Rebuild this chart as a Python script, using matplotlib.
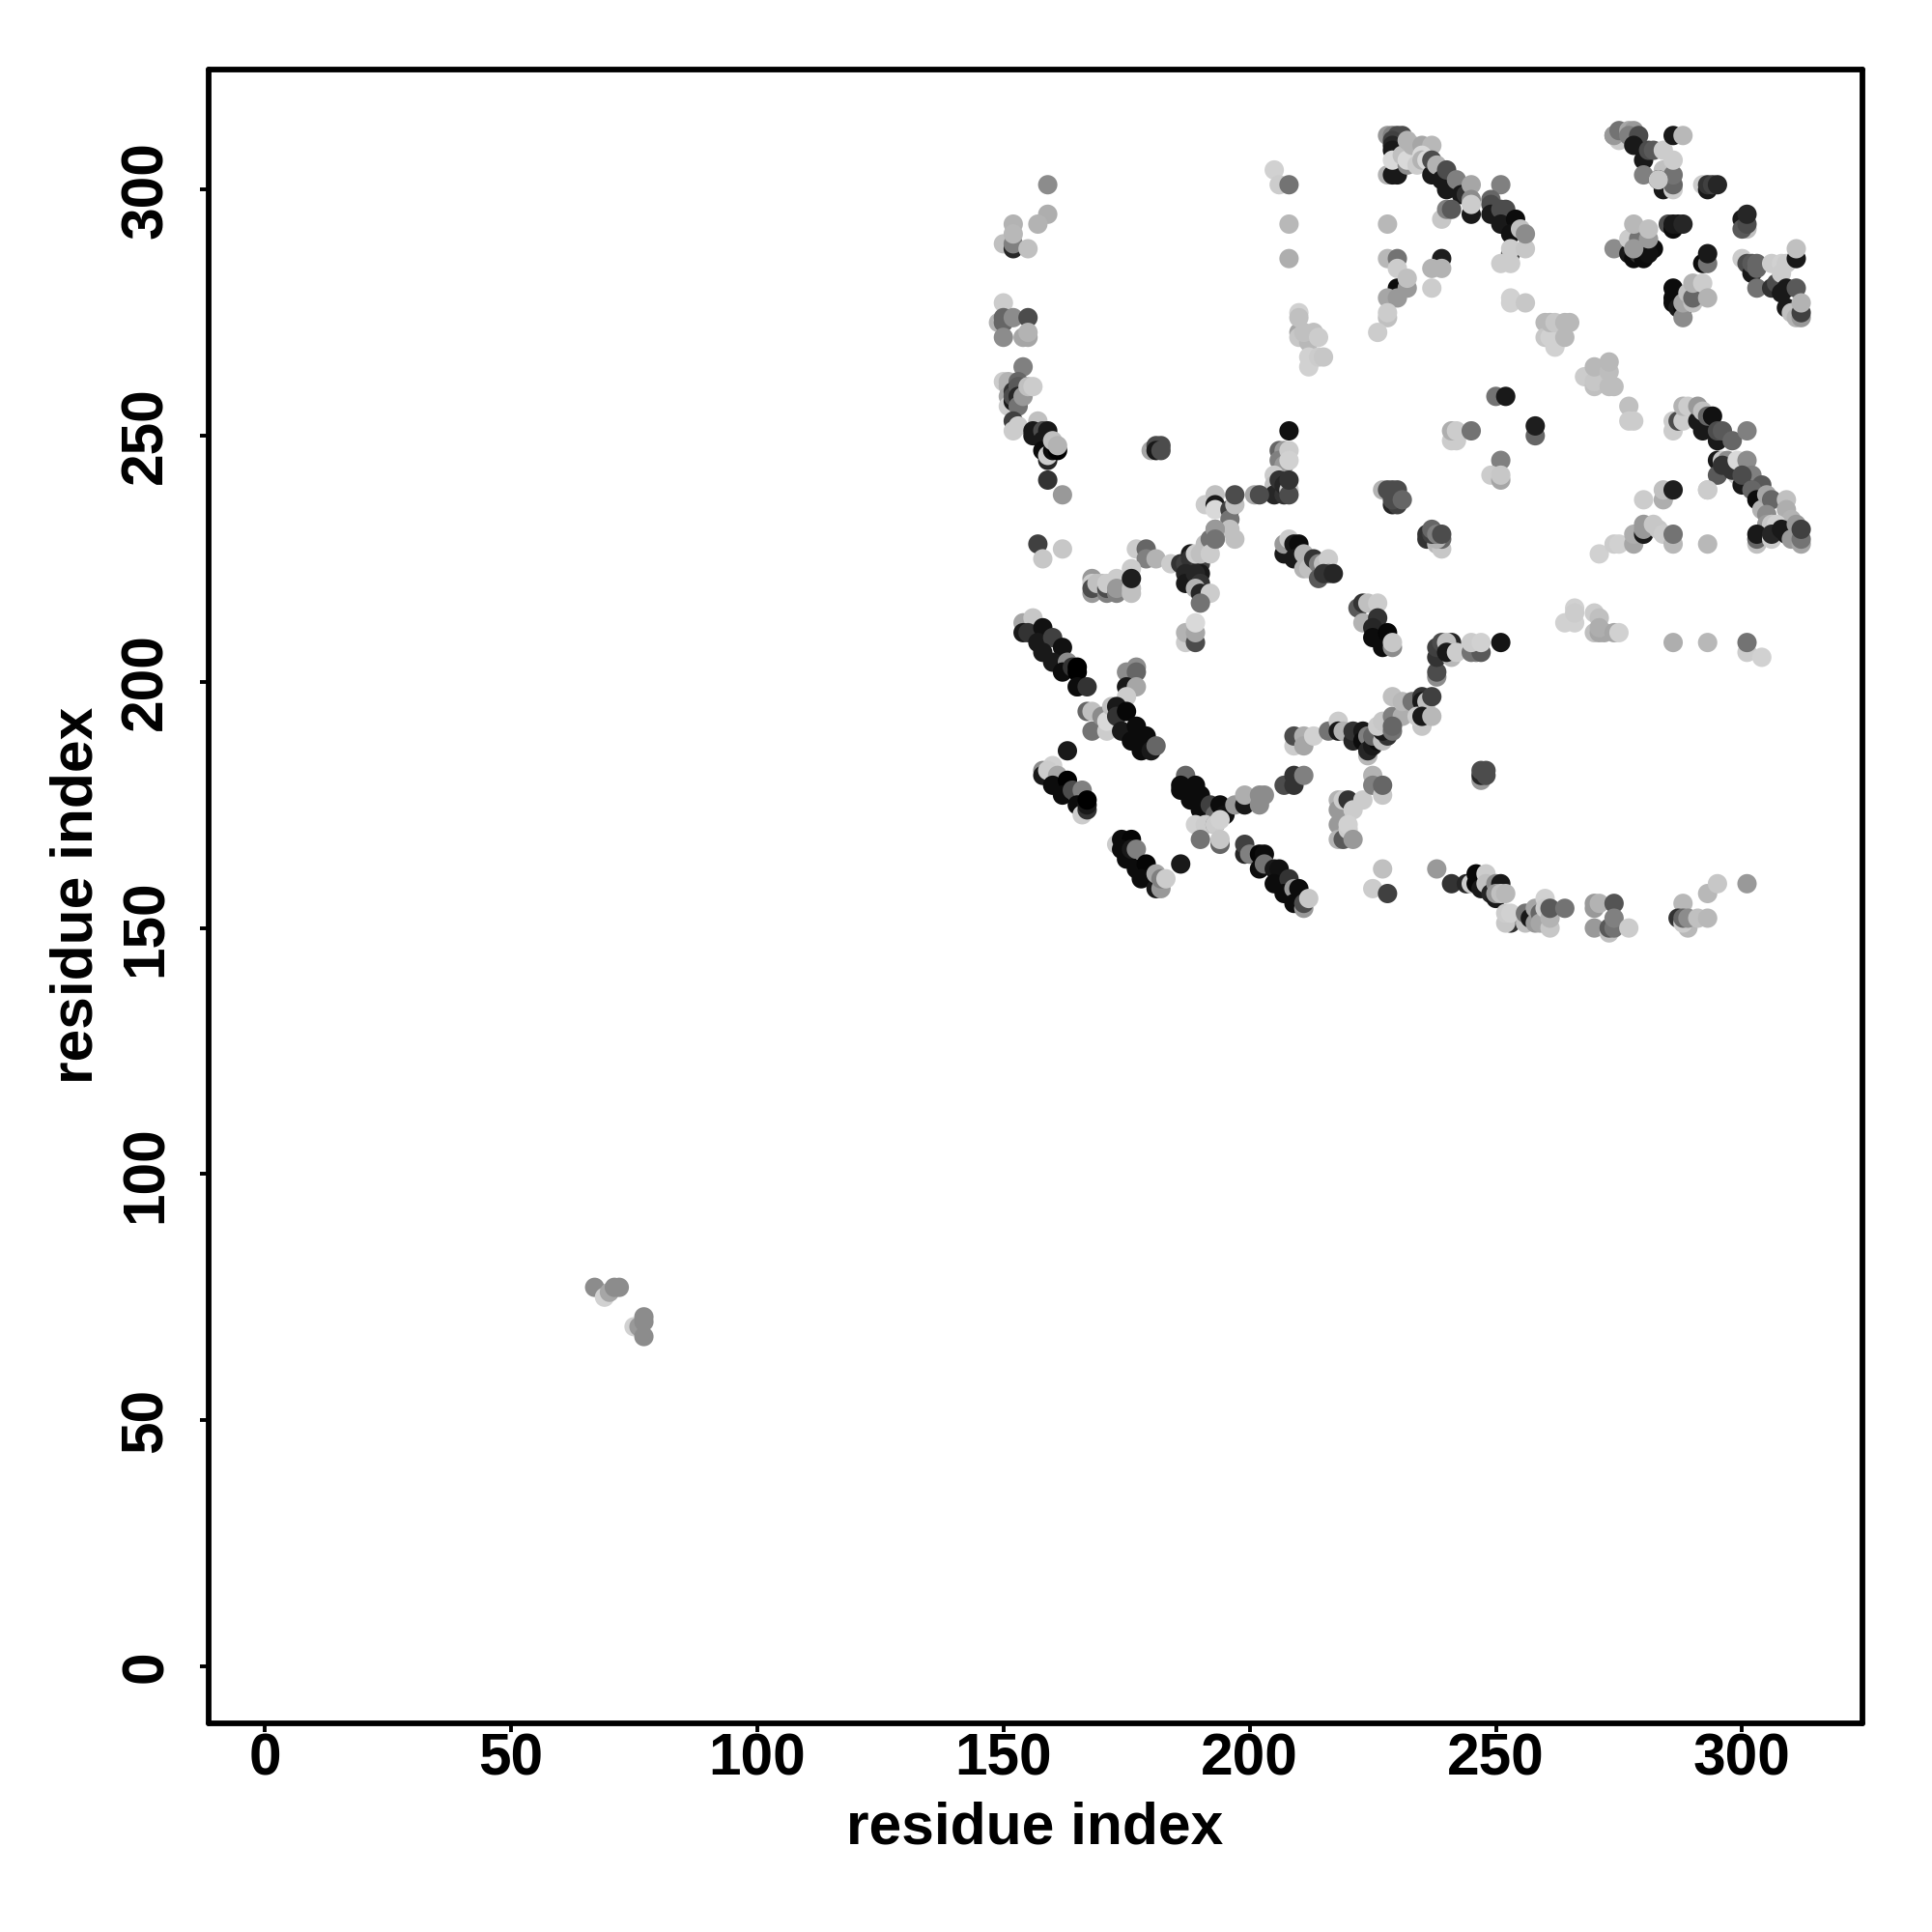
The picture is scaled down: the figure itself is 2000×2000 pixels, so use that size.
import matplotlib
matplotlib.use('Agg')
import matplotlib.pyplot as plt
import numpy as np

# contact map: (residue i, residue j, shade), grouped by region of the map
low_patch = [(67,77,.55),(69,75,.82),(70,76,.65),(71,77,.55),(72,77,.55),
             (75,69,.82),(76,69,.6),(77,67,.55),(77,70,.55),(77,71,.55)]

left_arc = [(159,301,.55),(159,295,.68),(157,293,.7),(152,293,.7),(150,289,.75),(152,288,.15),
            (152,289,.5),(152,291,.72),(155,288,.75),
            (150,277,.8),(149,273,.7),(150,273,.4),(150,274,.4),(152,274,.55),(155,274,.3),
            (150,270,.55),(154,270,.65),(155,270,.65),(155,271,.7),
            (154,264,.5),(150,261,.8),(151,261,.7),(151,260,.7),(153,261,.4),(151,258,.65),
            (151,256,.8),(152,257,.1),(152,259,.2),(152,258,.3),(153,260,.35),(153,258,.15),
            (153,256,.45),(154,258,.6),(155,260,.75),(156,260,.8),
            (152,253,.25),(152,251,.8),(153,252,.8),(157,253,.75),(156,250,.1),(156,251,.1),
            (158,251,.3),(159,251,.1),(158,249,.1),(158,247,.05),(159,245,.15),(159,246,.8),
            (160,247,.05),(161,247,.0),(160,249,.75),(161,248,.7),
            (159,241,.2),(162,238,.6),(180,247,.65),(181,248,.3),(182,248,.3),(181,247,.1),(182,247,.3)]

top_mid = [(205,304,.82),(206,301,.8),(208,301,.45),(208,293,.72),(208,286,.68),
           (210,271,.65),(210,270,.78),(212,269,.72),(211,271,.75),(210,275,.82),(210,274,.75),
           (213,271,.75),(214,270,.8),(212,264,.82),(212,266,.82),(214,266,.8),(215,266,.78)]

ring_top = [(208,251,.07),(206,247,.4),(207,247,.6),(206,245,.5),(207,244,.6),(208,247,.8),(208,245,.82),
            (205,242,.8),(205,240,.75),(205,238,.15),(207,238,.2),(206,241,.2),(207,240,.15),
            (208,239,.8),(208,238,.3),(208,241,.2),
            (201,238,.65),(202,238,.3),(191,236,.8),(193,238,.75),(193,236,.1),(193,235,.85),
            (196,235,.25),(196,233,.45),(196,231,.75),(197,236,.75),(197,238,.3),(197,229,.75),
            (193,231,.6),(193,229,.45)]

ring_left = [(157,228,.25),(162,227,.78),(158,225,.78),(177,227,.8),(179,227,.4),(179,225,.5),(181,225,.7),
             (168,221,.6),(168,220,.8),(168,218,.6),(168,219,.3),(169,220,.75),(170,220,.75),(171,218,.5),
             (171,219,.3),(171,220,.8),(173,221,.8),(173,218,.5),(173,219,.6),(175,219,.6),
             (176,218,.75),(176,219,.75),(176,223,.8),(176,221,.12),
             (184,224,.8),(186,224,.2),(187,224,.25),(188,226,.1),(188,225,.2),(187,222,.15),(187,220,.1),
             (190,224,.25),(190,222,.1),(189,222,.15),(190,220,.2),(189,226,.8),(190,226,.75),
             (191,228,.75),(192,229,.45),(192,226,.8),(193,231,.6),(193,229,.45),
             (189,219,.7),(190,218,.15),(192,218,.8),(190,216,.45),
             (187,208,.8),(187,210,.7),(189,208,.3),(189,210,.65),(189,212,.85)]

ring_right = [(207,226,.1),(207,228,.6),(208,229,.8),(209,228,.1),(210,228,.05),(209,225,.1),(211,226,.7),
              (211,223,.7),(212,223,.75),(213,225,.2),(214,224,.5),(215,224,.75),(216,225,.8),
              (214,221,.35),(216,222,.4),(215,222,.2),(217,222,.15),
              (222,215,.35),(223,216,.2),(223,212,.7),(224,216,.75),(226,216,.8),(226,213,.2),
              (225,211,.15),(225,209,.05),(227,207,.05),(229,207,.55),(228,210,.03),(229,208,.78)]

diag_a = [(154,212,.65),(156,213,.78),(154,210,.1),(155,210,.2),(158,211,.07),(157,208,.1),(160,209,.25),
          (158,206,.1),(162,207,.07),(160,204,.1),(163,204,.55),(162,202,.05),(164,203,.2),
          (165,199,.55),(165,203,.0),(165,202,.0),(165,199,.05),(167,199,.2)]

diag_b = [(175,202,.55),(177,203,.55),(177,202,.4),(175,199,.1),(177,199,.65),(175,197,.8),
          (167,194,.4),(168,194,.75),(168,190,.45),(171,190,.8),(170,193,.55),(171,192,.85),(172,195,.75),
          (173,195,.1),(173,193,.2),(175,194,.03),(174,190,.1),(177,191,.05),(176,188,.05),
          (179,189,.05),(178,186,.05),(180,186,.1),(181,187,.4),(163,186,.1)]

diag_c = [(158,182,.55),(158,181,.1),(160,183,.82),(159,182,.8),(161,181,.65),(160,179,.05),(163,180,.0),
          (162,177,.05),(164,178,.3),(165,177,.3),(166,178,.5),(165,175,.05),(166,173,.8),
          (167,174,.2),(167,175,.1),(167,176,.0)]

diag_d = [(187,181,.4),(186,179,.05),(186,178,.05),(189,179,.05),(188,176,.05),(190,177,.05),(190,174,.05),
          (192,175,.25),(193,173,.4),(194,175,.05),(195,173,.07),
          (189,171,.82),(191,171,.8),(193,171,.5),(193,171,.8),(194,172,.82),(190,168,.45),
          (194,167,.4),(194,168,.78),(197,175,.6),(199,175,.1),(199,177,.68),(202,175,.55),
          (202,177,.55),(203,177,.55),(207,179,.3),(209,179,.2),(209,181,.2),(211,181,.5)]

diag_e = [(173,167,.8),(174,168,.05),(176,168,.02),(174,166,.05),(175,164,.05),(176,166,.1),(177,166,.5),
          (177,162,.05),(179,163,.02),(178,160,.05),(181,158,.1),(182,158,.6),(181,161,.65),
          (182,160,.5),(183,160,.8),(186,163,.1)]

diag_f = [(199,165,.15),(199,167,.25),(200,165,.5),(202,165,.02),(203,165,.05),(202,162,.05),(203,163,.45),
          (205,162,.1),(206,162,.07),(205,159,.05),(208,160,.2),(207,157,.05),(209,158,.6),(209,155,.05),
          (210,158,.05),(211,154,.6),(211,155,.3),(212,156,.78),
          (227,162,.75),(225,158,.8),(228,157,.25)]

stack_mid = [(218,176,.7),(218,174,.6),(218,171,.6),(218,168,.7),(219,176,.8),(220,176,.2),(223,176,.8),
             (221,174,.8),(219,168,.35),(220,170,.8),(220,171,.82),(221,168,.6),
             (225,181,.7),(225,179,.5),(227,177,.78),(227,179,.4)]

ring_low = [(209,187,.8),(209,189,.3),(211,189,.68),(211,187,.65),(213,189,.82),(216,190,.45),(218,192,.8),
            (218,190,.1),(219,190,.7),(221,188,.15),(221,190,.2),(224,185,.72),(223,190,.1),(223,188,.05),
            (224,189,.5),(224,186,.15),(225,187,.1),(226,188,.05),(225,189,.4),(227,188,.75),
            (228,189,.2),(227,190,.1),(226,191,.8),(227,192,.78),(229,190,.45),(229,193,.5),(231,193,.68),
            (229,197,.75),(231,196,.72),(233,196,.45),(235,197,.2),(235,196,.1),(236,196,.75),(237,197,.25),
            (229,191,.4),(235,191,.78),(234,193,.8),(235,193,.1),(237,193,.72),
            (238,201,.55),(238,202,.3),(238,205,.2),(238,207,.25),(239,208,.3),(241,208,.15),(240,208,.75),
            (241,205,.72),(240,206,.1),(242,206,.8),(246,206,.5),(245,206,.45),(247,206,.35),(245,208,.8),
            (247,208,.82),(251,208,.08),(247,180,.6),(247,181,.15),(247,182,.3),(248,182,.3),(248,181,.3)]

bottom_row = [(238,162,.6),(241,159,.2),(244,159,.15),(245,159,.8),(246,161,.03),(246,159,.03),(248,161,.8),
              (247,158,.1),(248,159,.75),(249,157,.15),(250,159,.55),(251,159,.1),(250,156,.1),(250,157,.6),
              (251,157,.75),(252,157,.72),(253,151,.2),(252,151,.78),(252,153,.8),(253,153,.82),
              (256,151,.75),(256,153,.45),(257,152,.1),(258,151,.6),(258,154,.65),(259,153,.4),(259,151,.65),
              (260,156,.82),(260,154,.8),(261,150,.78),(261,152,.7),(261,154,.35),(264,154,.45),
              (270,155,.6),(270,154,.6),(271,155,.7),(274,155,.33),(270,150,.6),(273,149,.75),(273,150,.35),
              (274,150,.45),(274,152,.5),(277,150,.8),
              (288,155,.72),(287,152,.2),(289,150,.72),(288,151,.8),(288,152,.4),(289,152,.55),
              (291,152,.75),(293,152,.72),(293,157,.72),(295,159,.78),(301,159,.6)]

row_210 = [(264,212,.82),(266,212,.82),(266,215,.82),(266,214,.8),(270,210,.75),(271,210,.65),(272,210,.65),
           (270,214,.8),(271,213,.75),(271,211,.68),(274,210,.65),(275,210,.82),
           (286,208,.68),(293,208,.72),(301,206,.8),(301,208,.45),(304,205,.82)]

row_230 = [(271,226,.82),(274,228,.8),(275,228,.82),(278,228,.65),(278,230,.68),(280,230,.1),(280,231,.6),
           (280,232,.6),(282,232,.78),(283,231,.78),(284,230,.8),(286,228,.72),(286,230,.45),(293,228,.72),
           (280,237,.8),(284,237,.68),(284,239,.75),(286,239,.12),(293,239,.78)]

blob_237 = [(227,239,.7),(228,239,.3),(229,239,.3),(230,239,.3),(229,236,.15),(230,236,.25),(229,237,.3),(231,237,.4),
            (236,229,.2),(236,230,.2),(238,228,.72),(239,227,.78),(239,229,.4),(238,229,.7),(237,230,.25),
            (237,231,.4),(238,230,.5),(239,230,.3)]

scatter_250 = [(250,258,.45),(252,258,.1),(258,250,.4),(258,252,.12),(241,249,.8),(242,249,.8),(241,251,.68),
               (242,251,.8),(245,251,.45),(251,245,.5),(249,242,.8),(251,241,.65),(251,242,.78)]

diag_g = [(286,251,.8),(286,253,.8),(287,253,.3),(288,253,.8),(288,256,.7),(289,256,.8),(291,253,.1),(291,256,.6),
          (292,251,.1),(292,255,.75),(293,254,.4),(294,254,.07),(295,249,.1),(295,251,.3),(296,251,.35),
          (298,249,.4),(301,251,.5),(295,245,.1),(296,245,.78),(295,242,.35),(297,245,.55),(296,244,.2),
          (299,242,.8),(298,243,.2),(299,245,.85),(301,245,.55),(302,242,.5),(300,240,.1),(300,242,.3),
          (304,240,.35),(302,239,.4),(303,237,.05),(293,239,.8),(304,235,.7),(305,238,.65),(306,237,.4),(309,237,.75),
          (309,235,.68),(310,233,.7),(305,234,.55),(305,232,.6),(306,232,.78),(307,232,.82),
          (303,228,.75),(303,229,.4),(303,230,.1),(306,229,.8),(306,230,.15),(308,231,.1),(309,230,.1),
          (310,229,.6),(311,229,.6),(311,232,.6),(312,228,.65),(312,229,.45),(312,231,.25)]

diag_h = [(228,311,.6),(229,311,.5),(230,311,.3),(231,311,.3),(229,310,.25),(229,309,.15),(229,308,.1),
          (228,303,.7),(229,303,.1),(230,303,.1),(230,306,.1),(229,306,.85),(232,305,.55),(231,307,.75),
          (232,306,.85),(232,310,.7),(233,309,.7),(235,309,.65),(237,309,.72),(234,305,.8),(235,307,.85),
          (235,306,.7),(236,306,.85),(237,303,.1),(237,306,.3),(238,305,.7),(239,302,.1),(240,304,.3),
          (240,300,.1),(242,302,.5),(243,299,.1),(244,299,.2),(245,301,.65),(245,295,.1),(245,298,.55),(245,297,.8),
          (239,294,.78),(240,296,.5),(241,296,.35),(251,301,.5),(249,298,.4),(249,297,.3),(249,295,.1),
          (251,296,.3),(252,296,.3),(251,293,.1),(254,294,.05),(253,291,.07),(253,287,.3),(253,288,.8),
          (255,292,.75),(256,288,.78),(256,291,.55),(251,285,.8),(253,285,.8),
          (239,286,.12),(237,284,.7),(239,284,.7),(237,280,.8),
          (228,286,.72),(230,286,.45),(230,284,.8),(230,280,.05),(228,278,.65),(230,278,.6),(232,280,.6),
          (232,282,.75),(228,293,.72),(228,274,.75),(228,275,.8),(226,271,.8)]

mid_slope = [(253,277,.82),(253,278,.82),(256,277,.78),(260,273,.72),(260,270,.78),(261,270,.82),(261,273,.72),
             (262,273,.78),(262,268,.82),(264,270,.72),(264,273,.72),(265,273,.72),
             (268,262,.8),(270,260,.75),(270,261,.78),(270,264,.72),(273,263,.74),(273,265,.72),(273,260,.74),
             (274,260,.74),(277,256,.75),(277,253,.8),(278,253,.8)]

corner = [(274,311,.55),(274,288,.55),(275,310,.8),(274,311,.6),(275,312,.45),(277,312,.65),(278,312,.6),
          (277,311,.5),(279,311,.3),(278,309,.1),(280,306,.1),(281,308,.3),(282,308,.35),(280,303,.5),
          (284,304,.75),(284,300,.1),(284,308,.8),(286,300,.8),(286,301,.4),(286,303,.45),(286,306,.8),
          (283,302,.1),(283,302,.78),(286,311,.1),(288,311,.72),
          (292,301,.8),(293,300,.1),(293,301,.2),(294,301,.25),(295,301,.15),
          (300,294,.1),(301,292,.75),(300,292,.35),(301,293,.3),(301,295,.15),
          (285,293,.3),(286,292,.05),(286,293,.1),(287,293,.1),(288,293,.15),
          (277,287,.1),(278,286,.05),(279,287,.2),(280,286,.05),(282,288,.05),(281,287,.07),
          (277,290,.8),(279,290,.45),(278,288,.6),(278,293,.72),(281,290,.6),(281,292,.75),
          (292,285,.05),(293,285,.45),(293,287,.1),
          (300,286,.8),(301,285,.3),(302,283,.1),(302,285,.35),(303,284,.4),(303,285,.4),(303,280,.45),
          (306,280,.2),(307,281,.3),(306,285,.8),(308,285,.82),(308,283,.8),(309,285,.8),(308,279,.1),
          (309,280,.1),(309,276,.1),(311,286,.1),(311,288,.75),(310,275,.75),(311,274,.7),(312,274,.6),
          (312,275,.25),(311,280,.35),(312,277,.7),
          (286,280,.05),(286,278,.05),(286,277,.05),(287,276,.1),(288,276,.05),(288,274,.55),(288,277,.65),
          (289,279,.75),(290,277,.75),(290,278,.4),(290,281,.7),(292,281,.8),(293,278,.7)]

groups = [low_patch, left_arc, top_mid, ring_top, ring_left, ring_right, diag_a, diag_b, diag_c, diag_d,
          diag_e, diag_f, stack_mid, ring_low, bottom_row, row_210, row_230, blob_237, scatter_250,
          diag_g, diag_h, mid_slope, corner]

tick_values = [0, 50, 100, 150, 200, 250, 300]

pts = np.array([p for g in groups for p in g])

plt.rcParams['font.family'] = ['Liberation Sans', 'DejaVu Sans']
plt.rcParams['font.weight'] = 'bold'

fig = plt.figure(figsize=(10, 10), dpi=200)
ax = fig.add_axes([216/2000, 1-1784/2000, (1928-216)/2000, (1784-72)/2000])
ax.scatter(pts[:, 0], pts[:, 1], c=pts[:, 2], cmap='gray', vmin=0, vmax=1, s=52, linewidths=0)

ax.set_xlim(-11.38, 324.44)
ax.set_ylim(-11.58, 324.4)
ax.set_xticks(tick_values)
ax.set_yticks(tick_values)
ax.tick_params(axis='both', length=3.2, width=1.4, labelsize=21.8)
ax.tick_params(axis='x', pad=0.3)
ax.tick_params(axis='y', pad=9.5)
for lab in ax.get_yticklabels():
    lab.set_rotation(90)
    lab.set_va('center')
for s in ax.spines.values():
    s.set_linewidth(2.1)
    s.set_capstyle('round')

fig.text(1071/2000, 1-1893/2000, 'residue index', ha='center', va='center', fontsize=21.8, fontweight='bold')
fig.text(80/2000, 1-927/2000, 'residue index', ha='center', va='center', rotation=90, fontsize=21.8, fontweight='bold')

fig.savefig('out.png', dpi=200)
